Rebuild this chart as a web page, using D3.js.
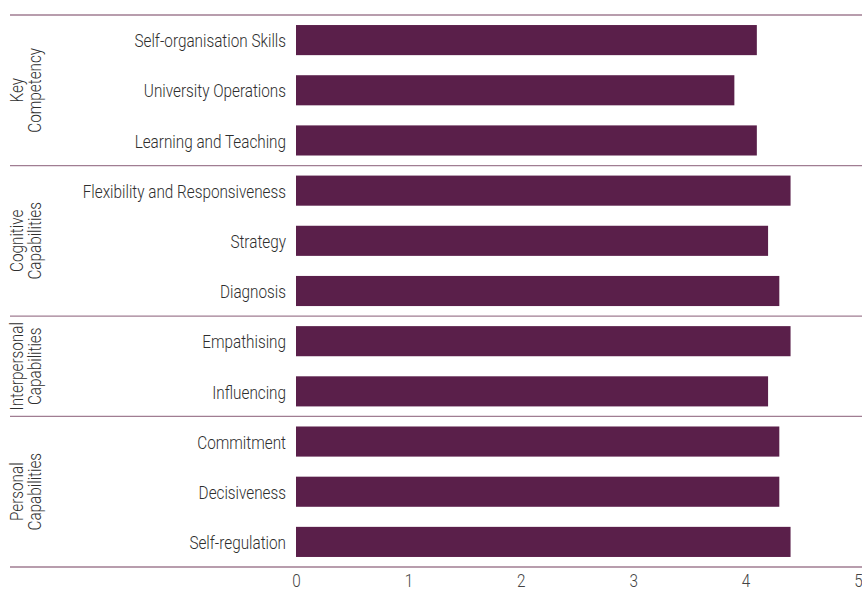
<!DOCTYPE html>
<html>
<head>
<meta charset="utf-8">
<script src="https://cdn.jsdelivr.net/npm/d3@7"></script>
<style>
  html, body { margin: 0; padding: 0; background: #fff; }
  svg text { font-family: "Roboto", sans-serif; font-weight: 300; }
</style>
</head>
<body>
<svg id="chart" width="862" height="590"></svg>
<script>
// Capability scores, top to bottom
const categories = [
  "Self-organisation Skills", "University Operations", "Learning and Teaching",
  "Flexibility and Responsiveness", "Strategy", "Diagnosis",
  "Empathising", "Influencing",
  "Commitment", "Decisiveness", "Self-regulation"
];
const scores = [4.1, 3.9, 4.1, 4.4, 4.2, 4.3, 4.4, 4.2, 4.3, 4.3, 4.4];

// Groups: label lines and how many categories each spans
const groupLabels = [["Key", "Competency"], ["Cognitive", "Capabilities"], ["Interpersonal", "Capabilities"], ["Personal", "Capabilities"]];
const groupSizes = [3, 3, 2, 3];

const xTicks = [0, 1, 2, 3, 4, 5];

const svg = d3.select("#chart");
const plotLeft = 296, plotRight = 858, plotTop = 15, plotBottom = 567;
const narrow = 0.85; // horizontal squeeze for a condensed look
const fontSize = 18;
const textColor = "#2e2e2e";

const x = d3.scaleLinear().domain([0, 5]).range([plotLeft, plotRight]);
const y = d3.scaleBand().domain(categories).range([plotTop, plotBottom]).paddingInner(0.4).paddingOuter(0.2);

// Bars
svg.append("g").selectAll("rect")
  .data(categories)
  .join("rect")
  .attr("x", x(0))
  .attr("y", d => y(d))
  .attr("width", (d, i) => x(scores[i]) - x(0))
  .attr("height", y.bandwidth())
  .attr("fill", "#5a1f4a");

// Category labels
svg.append("g").selectAll("text")
  .data(categories)
  .join("text")
  .attr("transform", d => `translate(${plotLeft - 10},${y(d) + y.bandwidth() / 2}) scale(${narrow},1)`)
  .attr("dy", "0.4em")
  .attr("text-anchor", "end")
  .attr("font-size", fontSize)
  .attr("fill", textColor)
  .text(d => d);

// Group separators and rotated group labels
let acc = 0;
const bounds = [0];
groupSizes.forEach(n => { acc += n; bounds.push(acc); });
const yEdge = i => plotTop + i * (plotBottom - plotTop) / categories.length;

svg.append("g").selectAll("line")
  .data(bounds)
  .join("line")
  .attr("x1", 10).attr("x2", 862)
  .attr("y1", d => yEdge(d)).attr("y2", d => yEdge(d))
  .attr("stroke", "#a07d92")
  .attr("stroke-width", 1.3);

groupLabels.forEach((lines, gi) => {
  const cy = (yEdge(bounds[gi]) + yEdge(bounds[gi + 1])) / 2;
  const t = svg.append("text")
    .attr("transform", `translate(27,${cy}) rotate(-90) scale(${narrow},1)`)
    .attr("text-anchor", "middle")
    .attr("font-size", fontSize)
    .attr("fill", textColor);
  lines.forEach((l, li) => {
    t.append("tspan")
      .attr("x", 0)
      .attr("dy", li === 0 ? "-0.2em" : "0.95em")
      .text(l);
  });
});

// X axis
const xAxis = d3.axisBottom(x).tickValues(xTicks).tickSize(0).tickPadding(0).tickFormat(d3.format("d"));
const ax = svg.append("g").attr("transform", `translate(0,${plotBottom + 7})`).call(xAxis);
ax.select(".domain").remove();
ax.selectAll("text")
  .attr("font-size", fontSize)
  .attr("fill", "#444")
  .attr("transform", `scale(${narrow},1)`)
  .style("font-family", '"Roboto", sans-serif')
  .style("font-weight", 300);
</script>
</body>
</html>
